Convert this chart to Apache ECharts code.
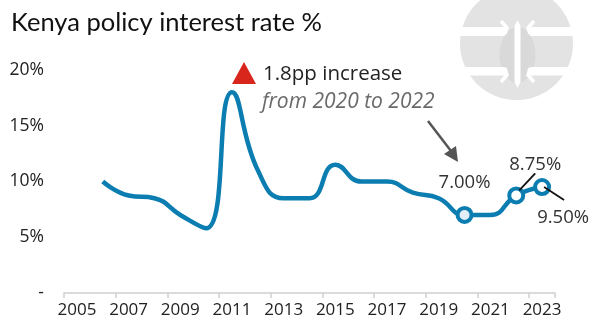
<!DOCTYPE html>
<html>
<head>
<meta charset="utf-8">
<script src="https://cdn.jsdelivr.net/npm/echarts@6/dist/echarts.min.js"></script>
<style>
  html, body { margin: 0; padding: 0; background: #ffffff; }
  #chart { width: 593px; height: 322px; }
</style>
</head>
<body>
<div id="chart"></div>
<script>
// Kenya central bank policy rate, year-end, %
const years = ['2005', '2006', '2007', '2008', '2009', '2010', '2011', '2012', '2013', '2014',
               '2015', '2016', '2017', '2018', '2019', '2020', '2021', '2022', '2023'];
const rates = [null, 10.0, 8.75, 8.5, 7.0, 5.8, 18.0, 11.0, 8.5, 8.5,
               11.5, 10.0, 10.0, 9.0, 8.5, 7.0, 7.0, 8.75, 9.5];
const yTicks = [0, 5, 10, 15, 20];
// years that get a ring marker and a value label
const highlighted = ['2020', '2022', '2023'];

const FONT = '"Open Sans", "DejaVu Sans", sans-serif';
const BLUE = '#0b7db1';

const labelSpec = {
  '2020': { offset: [0, -32], leader: null },
  '2022': { offset: [19, -31], leader: [[3, -5], [19, -22]] },
  '2023': { offset: [21, 31], leader: [[2, 0], [22, 13]] }
};

const seriesData = rates.map((v, i) => {
  const y = years[i];
  if (v == null) return null;
  if (!highlighted.includes(y)) return { value: v, symbol: 'none' };
  const spec = labelSpec[y];
  return {
    value: v,
    symbol: 'circle',
    symbolSize: 14,
    itemStyle: { color: y === '2020' ? '#e4eef6' : '#ffffff', borderColor: BLUE, borderWidth: 4 },
    label: {
      show: true,
      position: 'inside',
      offset: spec.offset,
      formatter: v.toFixed(2) + '%',
      fontFamily: FONT,
      fontSize: 18.5,
      color: '#333333'
    }
  };
});

const chart = echarts.init(document.getElementById('chart'), null, { renderer: 'canvas' });

const option = {
  animation: false,
  backgroundColor: '#ffffff',
  grid: { left: 64, right: 38, top: 70, bottom: 29, containLabel: false },
  xAxis: {
    type: 'category',
    data: years,
    boundaryGap: true,
    axisLine: { show: true, lineStyle: { color: '#d0d0d0', width: 1.5 } },
    axisTick: { show: true, interval: 1, length: 5, lineStyle: { color: '#d0d0d0', width: 1.5 } },
    axisLabel: { interval: 1, margin: 9, fontFamily: FONT, fontSize: 17, color: '#222222' },
    splitLine: { show: false }
  },
  yAxis: {
    type: 'value',
    min: yTicks[0],
    max: yTicks[yTicks.length - 1],
    interval: 5,
    axisLine: { show: false },
    axisTick: { show: false },
    splitLine: { show: false },
    axisLabel: {
      margin: 20,
      fontFamily: FONT,
      fontSize: 17.5,
      color: '#222222',
      formatter: v => (v === 0 ? '-' : v + '%')
    }
  },
  series: [{
    type: 'line',
    data: seriesData,
    smooth: 0.5,
    showSymbol: true,
    lineStyle: { color: BLUE, width: 4.5 },
    itemStyle: { color: BLUE },
    z: 3
  }],
  graphic: []
};

chart.setOption(option);

// Emblem in the top-right corner
const emblem = [
  { type: 'circle', shape: { cx: 516.5, cy: 43.5, r: 56.5 }, style: { fill: '#e3e3e3' }, silent: true },
  { type: 'ellipse', shape: { cx: 517.5, cy: 55, rx: 18, ry: 28 }, style: { fill: '#d9d9d9' }, silent: true },
  { type: 'rect', shape: { x: 455, y: 27, width: 50, height: 9 }, style: { fill: '#ffffff' }, silent: true },
  { type: 'rect', shape: { x: 530, y: 27, width: 50, height: 9 }, style: { fill: '#ffffff' }, silent: true },
  { type: 'rect', shape: { x: 455, y: 67, width: 50, height: 8.5 }, style: { fill: '#ffffff' }, silent: true },
  { type: 'rect', shape: { x: 530, y: 67, width: 50, height: 8.5 }, style: { fill: '#ffffff' }, silent: true },
  { type: 'polyline', shape: { points: [[501, 21], [507, 28], [505, 34]] }, style: { stroke: '#ffffff', lineWidth: 3.5, fill: null }, silent: true },
  { type: 'polyline', shape: { points: [[534, 21], [528, 28], [530, 34]] }, style: { stroke: '#ffffff', lineWidth: 3.5, fill: null }, silent: true },
  { type: 'polyline', shape: { points: [[505, 68], [507, 75], [501, 82]] }, style: { stroke: '#ffffff', lineWidth: 3.5, fill: null }, silent: true },
  { type: 'polyline', shape: { points: [[530, 68], [528, 75], [534, 82]] }, style: { stroke: '#ffffff', lineWidth: 3.5, fill: null }, silent: true },
  { type: 'polygon', shape: { points: [[517.5, 20], [520.5, 26], [520.5, 82], [517.5, 88], [514.5, 82], [514.5, 26]] }, style: { fill: '#ffffff' }, silent: true }
];

// Title and annotation
const texts = [
  { type: 'text', left: 11, top: 10, style: { text: 'Kenya policy interest rate %', fontFamily: '"Lato", "Open Sans", sans-serif', fontSize: 25.5, fill: '#111111' } },
  { type: 'polygon', shape: { points: [[244, 62], [256, 84], [232, 84]] }, style: { fill: '#d9261c' } },
  { type: 'text', x: 263, y: 74, style: { text: '1.8pp increase', fontFamily: FONT, fontSize: 20.5, fill: '#222222', textVerticalAlign: 'middle' } },
  { type: 'text', x: 262, y: 102, style: { text: 'from 2020 to 2022', fontFamily: FONT, fontStyle: 'italic', fontSize: 21, fill: '#6a6a6a', textVerticalAlign: 'middle' } },
  { type: 'line', shape: { x1: 428, y1: 121, x2: 451, y2: 151 }, style: { stroke: '#555555', lineWidth: 2.5 } },
  { type: 'polygon', shape: { points: [[458, 162], [444, 154], [456, 146]] }, style: { fill: '#555555' } }
];

// Leader lines from labelled points to their value labels
const leaders = [];
highlighted.forEach(y => {
  const spec = labelSpec[y];
  if (!spec.leader) return;
  const i = years.indexOf(y);
  const p = chart.convertToPixel({ seriesIndex: 0 }, [i, rates[i]]);
  leaders.push({
    type: 'line',
    shape: { x1: p[0] + spec.leader[0][0], y1: p[1] + spec.leader[0][1], x2: p[0] + spec.leader[1][0], y2: p[1] + spec.leader[1][1] },
    style: { stroke: '#111111', lineWidth: 1.8 },
    z: 10
  });
});

chart.setOption({ graphic: emblem.concat(texts, leaders) });
</script>
</body>
</html>
